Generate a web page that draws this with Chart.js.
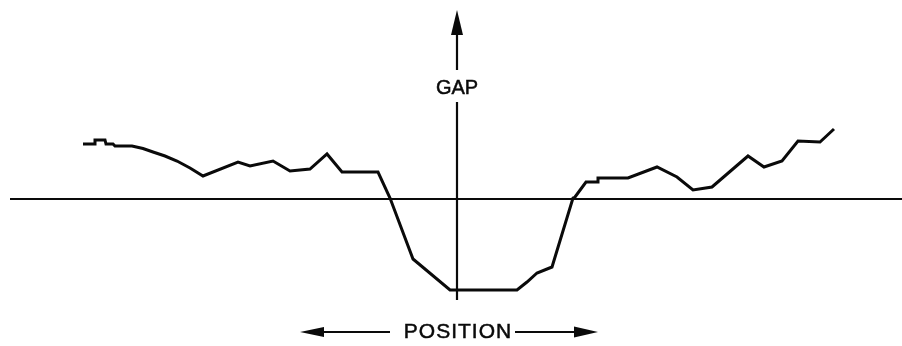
<!DOCTYPE html>
<html>
<head>
<meta charset="utf-8">
<script src="https://cdn.jsdelivr.net/npm/chart.js@4/dist/chart.umd.min.js"></script>
<style>
    html, body { margin: 0; padding: 0; background: #fff; }
    #wrap { width: 902px; height: 346px; }
</style>
</head>
<body>
<div id="wrap"><canvas id="gap-chart" width="902" height="346"></canvas></div>
<script>
// position measured from the centre axis, gap measured from the zero line
const positions = [-374, -362, -362, -352, -351, -344, -342, -325, -314, -304, -292, -280, -267, -254, -219, -207, -184, -167, -147, -130, -115, -79, -67, -44, -7, 60, 70, 80, 95, 116, 118, 129, 141, 141, 171, 200, 220, 236, 255, 291, 307, 325, 341, 363, 377];
const gaps = [55, 55, 59, 59, 55, 55, 53, 53, 50.5, 47, 43, 38, 31, 23, 37, 33, 38, 28, 30, 45, 27, 27, 1, -60, -91, -91, -83, -74, -68, 1, 2, 17, 17, 21, 21, 32, 22, 9, 12, 43, 32, 38, 58, 57, 70];
const xLabel = "POSITION";
const yLabel = "GAP";

const ink = '#0a0a0a';

// hand drawn axes, arrows and labels
const axesPlugin = {
    id: 'axes',
    beforeDatasetsDraw: function (chart) {
        const ctx = chart.ctx;
        const x = chart.scales.x;
        const y = chart.scales.y;
        const px = function (v) { return x.getPixelForValue(v); };
        const py = function (v) { return y.getPixelForValue(v); };

        ctx.save();
        ctx.strokeStyle = ink;
        ctx.fillStyle = ink;
        ctx.lineWidth = 2.2;

        // zero line
        ctx.beginPath();
        ctx.moveTo(px(-447), py(0));
        ctx.lineTo(chart.chartArea.right, py(0));
        ctx.stroke();

        // vertical axis, broken for the label
        ctx.beginPath();
        ctx.moveTo(px(0), py(166));
        ctx.lineTo(px(0), py(129));
        ctx.moveTo(px(0), py(97));
        ctx.lineTo(px(0), py(-101));
        ctx.stroke();

        // up arrow head
        ctx.beginPath();
        ctx.moveTo(px(0), py(189));
        ctx.lineTo(px(-6), py(164));
        ctx.lineTo(px(6), py(164));
        ctx.closePath();
        ctx.fill();

        ctx.lineWidth = 0.5;
        ctx.font = '20px "Liberation Sans", Arial, sans-serif';
        ctx.textAlign = 'center';
        ctx.textBaseline = 'middle';
        ctx.fillText(yLabel, px(0), py(111));
        ctx.strokeText(yLabel, px(0), py(111));

        // position arrow
        const ay = py(-133);
        ctx.font = '21px "Liberation Sans", Arial, sans-serif';
        ctx.letterSpacing = '1px';
        ctx.fillText(xLabel, px(0) + 1, ay);
        ctx.strokeText(xLabel, px(0) + 1, ay);

        ctx.lineWidth = 2.2;
        ctx.beginPath();
        ctx.moveTo(px(-136), ay);
        ctx.lineTo(px(-67), ay);
        ctx.moveTo(px(58), ay);
        ctx.lineTo(px(120), ay);
        ctx.stroke();

        ctx.beginPath();
        ctx.moveTo(px(-157), ay);
        ctx.lineTo(px(-133), ay - 5);
        ctx.lineTo(px(-133), ay + 5);
        ctx.closePath();
        ctx.fill();

        ctx.beginPath();
        ctx.moveTo(px(141), ay);
        ctx.lineTo(px(117), ay - 5.5);
        ctx.lineTo(px(117), ay + 5.5);
        ctx.closePath();
        ctx.fill();

        ctx.restore();
    }
};

new Chart(document.getElementById("gap-chart"), {
    type: 'line',
    data: {
        datasets: [
            {
                data: positions.map(function (p, i) { return { x: p, y: gaps[i] }; }),
                borderColor: ink,
                borderWidth: 3,
                pointRadius: 0,
                tension: 0,
                fill: false
            }
        ]
    },
    options: {
        responsive: false,
        animation: false,
        layout: { padding: 0 },
        plugins: {
            legend: { display: false },
            tooltip: { enabled: false },
            title: { display: false }
        },
        scales: {
            x: { type: 'linear', min: -457, max: 445, display: false },
            y: { type: 'linear', min: -147, max: 199, display: false }
        }
    },
    plugins: [axesPlugin]
});
</script>
</body>
</html>
